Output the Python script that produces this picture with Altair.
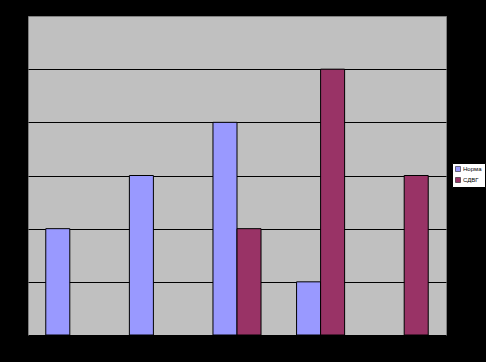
import altair as alt
import pandas as pd

categories = ["1", "2", "3", "4", "5"]
norma = [2, 3, 4, 1, 0]
sdvg = [0, 0, 2, 5, 3]
series = ["Норма", "СДВГ"]

rows = []
for c, a, b in zip(categories, norma, sdvg):
    rows.append({"cat": c, "series": series[0], "v": a})
    rows.append({"cat": c, "series": series[1], "v": b})
df = pd.DataFrame(rows)

chart = alt.Chart(df).transform_filter("datum.v > 0").mark_bar(
    stroke="black", strokeWidth=1
).encode(
    x=alt.X("cat:N", sort=categories, scale=alt.Scale(domain=categories, paddingInner=0, paddingOuter=0),
            axis=alt.Axis(labels=False, ticks=False, title=None, domain=False)),
    xOffset=alt.XOffset("series:N", scale=alt.Scale(domain=series, paddingInner=0, paddingOuter=0.74)),
    y=alt.Y("v:Q", scale=alt.Scale(domain=[0, 6], nice=False),
            axis=alt.Axis(values=[0, 1, 2, 3, 4, 5], labels=False, ticks=False, title=None,
                          domain=False, gridColor="black", gridWidth=1, gridOpacity=1)),
    color=alt.Color("series:N", scale=alt.Scale(domain=series, range=["#9999FF", "#993366"]),
                    legend=alt.Legend(title=None, orient="none", legendX=424, legendY=147,
                                      fillColor="white", strokeColor="black", padding=3,
                                      symbolType="square", symbolSize=25, symbolStrokeColor="black",
                                      symbolStrokeWidth=0.5, labelFont="Liberation Sans",
                                      labelFontSize=6, labelColor="black", rowPadding=3,
                                      labelOffset=2, symbolOpacity=1)),
).properties(
    width=418, height=319,
    background="black",
    padding={"left": 28, "top": 16, "right": 40, "bottom": 27},
    autosize=alt.AutoSizeParams(type="none"),
).configure_view(fill="#C0C0C0", stroke="#808080", strokeWidth=1)

chart.save("out.html", embed_options={"renderer": "svg", "actions": False})
